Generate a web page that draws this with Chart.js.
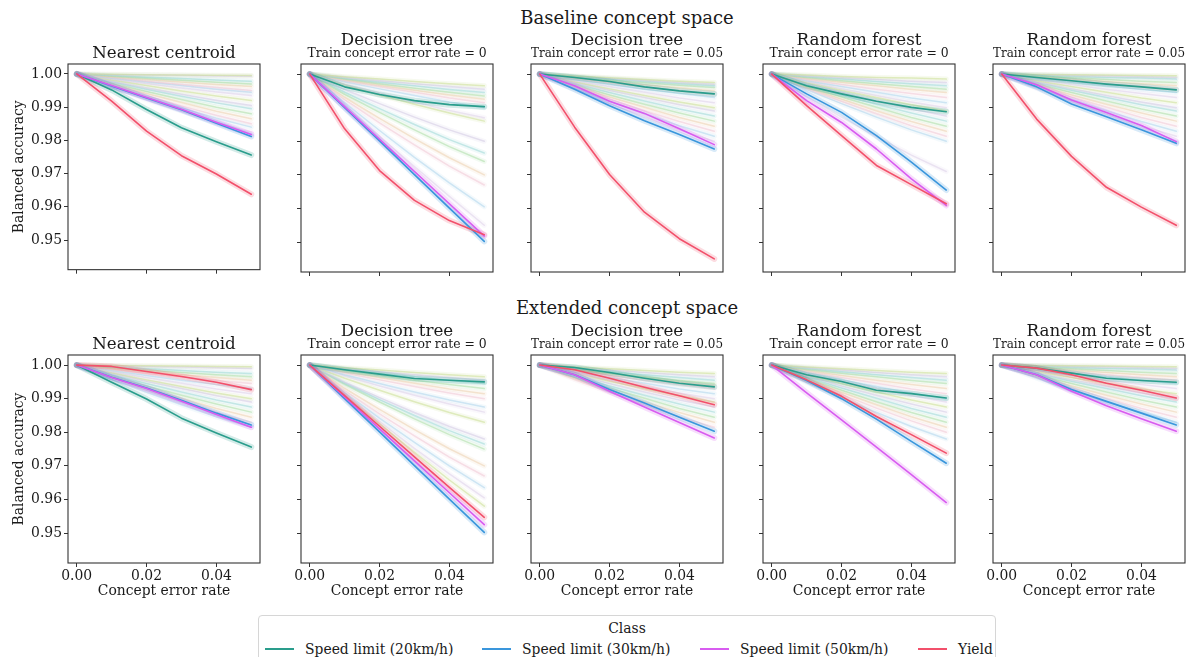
<!DOCTYPE html>
<html>
<head>
<meta charset="utf-8">
<script src="https://cdn.jsdelivr.net/npm/chart.js@4.4.0/dist/chart.umd.min.js"></script>
<style>
html,body{margin:0;padding:0;background:#fff;}
body{width:1188px;height:657px;overflow:hidden;position:relative;font-family:"DejaVu Serif",serif;color:#1a1a1a;}
.panel{position:absolute;}
.sup{position:absolute;left:427px;width:400px;text-align:center;font-size:18px;line-height:20px;white-space:nowrap;}
#legend{position:absolute;left:258px;top:615px;width:738px;height:60px;border:1px solid #d6d6d6;border-radius:4px;box-sizing:border-box;background:#fff;}
#legend .ttl{position:absolute;left:0;width:100%;top:4px;text-align:center;font-size:13.9px;line-height:16px;}
#legend .sw{position:absolute;top:32px;width:29px;height:2px;}
#legend .lb{position:absolute;top:24px;font-size:13.9px;line-height:18px;white-space:nowrap;}
</style>
</head>
<body>
<div class="sup" style="top:8px">Baseline concept space</div>
<div class="sup" style="top:298px">Extended concept space</div>
<div id="legend"><div class="ttl">Class</div></div>
<script>
// ---------- shared axes / labels ----------
const xValues = [0, 0.01, 0.02, 0.03, 0.04, 0.05];
const xTickValues = [0, 0.02, 0.04];
const yTickValues = [0.95, 0.96, 0.97, 0.98, 0.99, 1.00];
const classNames = ['Speed limit (20km/h)', 'Speed limit (30km/h)', 'Speed limit (50km/h)', 'Yield'];
const classColors = ['#2a9d8c', '#3a96dc', '#d85cf0', '#f2506b'];
const bandColors = ['rgba(42,157,140,0.2)', 'rgba(58,150,220,0.2)', 'rgba(216,92,240,0.2)', 'rgba(242,80,107,0.2)'];
const fadedColors = ['rgba(200,222,140,0.5)', 'rgba(208,198,226,0.5)', 'rgba(150,214,212,0.5)', 'rgba(165,220,160,0.5)',
                     'rgba(236,206,170,0.5)', 'rgba(240,195,210,0.5)', 'rgba(168,210,236,0.5)', 'rgba(220,206,232,0.5)'];
const fadedBandColors = ['rgba(200,222,140,0.14)', 'rgba(208,198,226,0.14)', 'rgba(150,214,212,0.14)', 'rgba(165,220,160,0.14)',
                         'rgba(236,206,170,0.14)', 'rgba(240,195,210,0.14)', 'rgba(168,210,236,0.14)', 'rgba(220,206,232,0.14)'];
const panelTitles = ['Nearest centroid', 'Decision tree', 'Decision tree', 'Random forest', 'Random forest'];
const panelSubtitles = ['', 'Train concept error rate = 0', 'Train concept error rate = 0.05', 'Train concept error rate = 0', 'Train concept error rate = 0.05'];
const yAxisTitle = 'Balanced accuracy';
const xAxisTitle = 'Concept error rate';

// ---------- highlighted classes: [20km/h, 30km/h, 50km/h, Yield] ----------
const baseNC = [
  [1, 0.9952, 0.9893, 0.9838, 0.9796, 0.9756],
  [1, 0.9964, 0.9928, 0.9892, 0.9852, 0.9812],
  [1, 0.9965, 0.9929, 0.9894, 0.9855, 0.9818],
  [1, 0.9918, 0.9828, 0.9754, 0.9699, 0.9638]];
const baseDT0 = [
  [1, 0.9962, 0.9939, 0.9921, 0.9909, 0.9903],
  [1, 0.9900, 0.9801, 0.9701, 0.9601, 0.9502],
  [1, 0.9903, 0.9806, 0.9710, 0.9614, 0.9518],
  [1, 0.9837, 0.9713, 0.9624, 0.9564, 0.9522]];
const baseDT05 = [
  [1, 0.9990, 0.9978, 0.9962, 0.9950, 0.9941],
  [1, 0.9955, 0.9906, 0.9861, 0.9820, 0.9777],
  [1, 0.9965, 0.9919, 0.9883, 0.9837, 0.9790],
  [1, 0.9842, 0.9701, 0.9589, 0.9510, 0.9450]];
const baseRF0 = [
  [1, 0.9965, 0.9941, 0.9919, 0.9901, 0.9888],
  [1, 0.9941, 0.9886, 0.9817, 0.9738, 0.9655],
  [1, 0.9921, 0.9856, 0.9777, 0.9688, 0.9609],
  [1, 0.9906, 0.9817, 0.9728, 0.9671, 0.9614]];
const baseRF05 = [
  [1, 0.9990, 0.9980, 0.9970, 0.9962, 0.9953],
  [1, 0.9962, 0.9911, 0.9873, 0.9834, 0.9794],
  [1, 0.9968, 0.9923, 0.9886, 0.9847, 0.9799],
  [1, 0.9866, 0.9755, 0.9663, 0.9604, 0.9550]];
const extNC = [
  [1, 0.9949, 0.9899, 0.9842, 0.9798, 0.9756],
  [1, 0.9964, 0.9932, 0.9895, 0.9857, 0.9822],
  [1, 0.9963, 0.9930, 0.9892, 0.9853, 0.9815],
  [1, 0.9996, 0.9981, 0.9966, 0.9949, 0.9927]];
const extDT0 = [
  [1, 0.9986, 0.9973, 0.9960, 0.9955, 0.9950],
  [1, 0.9900, 0.9801, 0.9701, 0.9601, 0.9502],
  [1, 0.9905, 0.9810, 0.9715, 0.9620, 0.9525],
  [1, 0.9909, 0.9818, 0.9727, 0.9636, 0.9547]];
const extDT05 = [
  [1, 0.9993, 0.9978, 0.9961, 0.9946, 0.9935],
  [1, 0.9971, 0.9927, 0.9887, 0.9845, 0.9803],
  [1, 0.9971, 0.9922, 0.9875, 0.9829, 0.9783],
  [1, 0.9986, 0.9961, 0.9934, 0.9909, 0.9882]];
const extRF0 = [
  [1, 0.9971, 0.9951, 0.9925, 0.9915, 0.9902],
  [1, 0.9954, 0.9900, 0.9839, 0.9773, 0.9708],
  [1, 0.9917, 0.9837, 0.9756, 0.9674, 0.9591],
  [1, 0.9956, 0.9907, 0.9847, 0.9793, 0.9738]];
const extRF05 = [
  [1, 0.9991, 0.9976, 0.9961, 0.9954, 0.9949],
  [1, 0.9971, 0.9927, 0.9892, 0.9857, 0.9822],
  [1, 0.9971, 0.9922, 0.9879, 0.9840, 0.9803],
  [1, 0.9991, 0.9971, 0.9946, 0.9925, 0.9902]];

// ---------- other (faded) classes ----------
const baseNCOther = [
  [1,0.9999,0.9998,0.9997,0.9996,0.9995],[1,0.9998,0.9997,0.9996,0.9994,0.9993],
  [1,0.9995,0.9990,0.9986,0.9982,0.9978],[1,0.9993,0.9987,0.9981,0.9975,0.9970],
  [1,0.9991,0.9983,0.9976,0.9968,0.9962],[1,0.9989,0.9978,0.9968,0.9959,0.9950],
  [1,0.9987,0.9976,0.9965,0.9954,0.9945],[1,0.9985,0.9971,0.9958,0.9946,0.9935],
  [1,0.9982,0.9965,0.9949,0.9934,0.9920],[1,0.9978,0.9958,0.9939,0.9921,0.9905],
  [1,0.9976,0.9954,0.9933,0.9913,0.9895],[1,0.9972,0.9947,0.9923,0.9900,0.9880],
  [1,0.9969,0.9941,0.9914,0.9888,0.9865],[1,0.9966,0.9934,0.9904,0.9876,0.9850],
  [1,0.9963,0.9930,0.9898,0.9867,0.9840],[1,0.9960,0.9923,0.9888,0.9855,0.9825]];
const baseDT0Other = [
  [1,0.9992,0.9985,0.9978,0.9971,0.9965],[1,0.9990,0.9980,0.9971,0.9963,0.9955],
  [1,0.9987,0.9976,0.9965,0.9954,0.9945],[1,0.9985,0.9971,0.9958,0.9946,0.9935],
  [1,0.9983,0.9967,0.9952,0.9938,0.9925],[1,0.9980,0.9963,0.9946,0.9929,0.9915],
  [1,0.9977,0.9956,0.9936,0.9917,0.9900],[1,0.9970,0.9943,0.9917,0.9892,0.9870],
  [1,0.9968,0.9938,0.9910,0.9884,0.9860],[1,0.9954,0.9912,0.9872,0.9834,0.9800],
  [1,0.9946,0.9897,0.9850,0.9805,0.9765],[1,0.9940,0.9886,0.9834,0.9784,0.9740],
  [1,0.9931,0.9868,0.9808,0.9751,0.9700],[1,0.9924,0.9855,0.9789,0.9726,0.9670],
  [1,0.9915,0.9832,0.9752,0.9676,0.9605],[1,0.9908,0.9815,0.9725,0.9636,0.9550]];
const baseDT05Other = [
  [1,0.9994,0.9989,0.9984,0.9979,0.9975],[1,0.9993,0.9987,0.9981,0.9975,0.9970],
  [1,0.9992,0.9985,0.9978,0.9971,0.9965],[1,0.9991,0.9982,0.9974,0.9967,0.9960],
  [1,0.9989,0.9978,0.9968,0.9959,0.9950],[1,0.9986,0.9974,0.9962,0.9950,0.9940],
  [1,0.9984,0.9969,0.9955,0.9942,0.9930],[1,0.9980,0.9963,0.9946,0.9929,0.9915],
  [1,0.9977,0.9956,0.9936,0.9917,0.9900],[1,0.9975,0.9952,0.9930,0.9909,0.9890],
  [1,0.9971,0.9945,0.9920,0.9896,0.9875],[1,0.9968,0.9938,0.9910,0.9884,0.9860],
  [1,0.9964,0.9932,0.9901,0.9871,0.9845],[1,0.9961,0.9925,0.9891,0.9859,0.9830],
  [1,0.9957,0.9919,0.9882,0.9846,0.9815],[1,0.9954,0.9912,0.9872,0.9834,0.9800]];
const baseRF0Other = [
  [1,0.9997,0.9993,0.9990,0.9988,0.9985],[1,0.9994,0.9989,0.9984,0.9979,0.9975],
  [1,0.9992,0.9985,0.9978,0.9971,0.9965],[1,0.9990,0.9980,0.9971,0.9963,0.9955],
  [1,0.9987,0.9976,0.9965,0.9954,0.9945],[1,0.9984,0.9969,0.9955,0.9942,0.9930],
  [1,0.9980,0.9963,0.9946,0.9929,0.9915],[1,0.9977,0.9956,0.9936,0.9917,0.9900],
  [1,0.9975,0.9952,0.9930,0.9909,0.9890],[1,0.9971,0.9945,0.9920,0.9896,0.9875],
  [1,0.9968,0.9938,0.9910,0.9884,0.9860],[1,0.9964,0.9932,0.9901,0.9871,0.9845],
  [1,0.9961,0.9925,0.9891,0.9859,0.9830],[1,0.9957,0.9919,0.9882,0.9846,0.9815],
  [1,0.9954,0.9912,0.9872,0.9834,0.9800],[1,0.9933,0.9872,0.9814,0.9759,0.9710]];
const baseRF05Other = [
  [1,0.9999,0.9998,0.9997,0.9996,0.9995],[1,0.9998,0.9996,0.9994,0.9992,0.9990],
  [1,0.9997,0.9993,0.9990,0.9988,0.9985],[1,0.9994,0.9989,0.9984,0.9979,0.9975],
  [1,0.9992,0.9985,0.9978,0.9971,0.9965],[1,0.9990,0.9980,0.9971,0.9963,0.9955],
  [1,0.9987,0.9976,0.9965,0.9954,0.9945],[1,0.9984,0.9969,0.9955,0.9942,0.9930],
  [1,0.9980,0.9963,0.9946,0.9929,0.9915],[1,0.9977,0.9956,0.9936,0.9917,0.9900],
  [1,0.9975,0.9952,0.9930,0.9909,0.9890],[1,0.9971,0.9945,0.9920,0.9896,0.9875],
  [1,0.9968,0.9938,0.9910,0.9884,0.9860],[1,0.9964,0.9932,0.9901,0.9871,0.9845],
  [1,0.9961,0.9925,0.9891,0.9859,0.9830],[1,0.9957,0.9919,0.9882,0.9846,0.9815]];
const extNCOther = [
  [1,0.9999,0.9998,0.9997,0.9996,0.9995],[1,0.9998,0.9996,0.9994,0.9992,0.9990],
  [1,0.9994,0.9989,0.9984,0.9979,0.9975],[1,0.9992,0.9985,0.9978,0.9971,0.9965],
  [1,0.9990,0.9980,0.9971,0.9963,0.9955],[1,0.9987,0.9976,0.9965,0.9954,0.9945],
  [1,0.9984,0.9969,0.9955,0.9942,0.9930],[1,0.9980,0.9963,0.9946,0.9929,0.9915],
  [1,0.9977,0.9956,0.9936,0.9917,0.9900],[1,0.9975,0.9952,0.9930,0.9909,0.9890],
  [1,0.9971,0.9945,0.9920,0.9896,0.9875],[1,0.9968,0.9938,0.9910,0.9884,0.9860],
  [1,0.9964,0.9932,0.9901,0.9871,0.9845],[1,0.9961,0.9925,0.9891,0.9859,0.9830],
  [1,0.9957,0.9919,0.9882,0.9846,0.9815]];
const extDT0Other = [
  [1,0.9992,0.9985,0.9978,0.9971,0.9965],[1,0.9990,0.9980,0.9971,0.9963,0.9955],
  [1,0.9987,0.9976,0.9965,0.9954,0.9945],[1,0.9984,0.9969,0.9955,0.9942,0.9930],
  [1,0.9980,0.9963,0.9946,0.9929,0.9915],[1,0.9977,0.9956,0.9936,0.9917,0.9900],
  [1,0.9971,0.9945,0.9920,0.9896,0.9875],[1,0.9968,0.9938,0.9910,0.9884,0.9860],
  [1,0.9961,0.9925,0.9891,0.9859,0.9830],[1,0.9949,0.9903,0.9859,0.9817,0.9780],
  [1,0.9946,0.9897,0.9850,0.9805,0.9765],[1,0.9943,0.9890,0.9840,0.9793,0.9750],
  [1,0.9931,0.9868,0.9808,0.9751,0.9700],[1,0.9924,0.9855,0.9789,0.9726,0.9670],
  [1,0.9918,0.9842,0.9770,0.9700,0.9635],[1,0.9915,0.9832,0.9752,0.9676,0.9605],
  [1,0.9912,0.9825,0.9740,0.9658,0.9580]];
const extDT05Other = [
  [1,0.9994,0.9989,0.9984,0.9979,0.9975],[1,0.9992,0.9985,0.9978,0.9971,0.9965],
  [1,0.9990,0.9980,0.9971,0.9963,0.9955],[1,0.9987,0.9976,0.9965,0.9954,0.9945],
  [1,0.9986,0.9974,0.9962,0.9950,0.9940],[1,0.9984,0.9969,0.9955,0.9942,0.9930],
  [1,0.9980,0.9963,0.9946,0.9929,0.9915],[1,0.9977,0.9956,0.9936,0.9917,0.9900],
  [1,0.9975,0.9952,0.9930,0.9909,0.9890],[1,0.9971,0.9945,0.9920,0.9896,0.9875],
  [1,0.9968,0.9938,0.9910,0.9884,0.9860],[1,0.9964,0.9932,0.9901,0.9871,0.9845],
  [1,0.9961,0.9925,0.9891,0.9859,0.9830],[1,0.9957,0.9919,0.9882,0.9846,0.9815]];
const extRF0Other = [
  [1,0.9994,0.9989,0.9984,0.9979,0.9975],[1,0.9992,0.9985,0.9978,0.9971,0.9965],
  [1,0.9990,0.9980,0.9971,0.9963,0.9955],[1,0.9987,0.9976,0.9965,0.9954,0.9945],
  [1,0.9984,0.9969,0.9955,0.9942,0.9930],[1,0.9980,0.9963,0.9946,0.9929,0.9915],
  [1,0.9977,0.9956,0.9936,0.9917,0.9900],[1,0.9975,0.9952,0.9930,0.9909,0.9890],
  [1,0.9971,0.9945,0.9920,0.9896,0.9875],[1,0.9968,0.9938,0.9910,0.9884,0.9860],
  [1,0.9964,0.9932,0.9901,0.9871,0.9845],[1,0.9961,0.9925,0.9891,0.9859,0.9830],
  [1,0.9957,0.9919,0.9882,0.9846,0.9815],[1,0.9954,0.9912,0.9872,0.9834,0.9800],
  [1,0.9949,0.9903,0.9859,0.9817,0.9780]];
const extRF05Other = [
  [1,0.9999,0.9998,0.9997,0.9996,0.9995],[1,0.9998,0.9996,0.9994,0.9992,0.9990],
  [1,0.9997,0.9993,0.9990,0.9988,0.9985],[1,0.9994,0.9989,0.9984,0.9979,0.9975],
  [1,0.9992,0.9985,0.9978,0.9971,0.9965],[1,0.9990,0.9980,0.9971,0.9963,0.9955],
  [1,0.9987,0.9976,0.9965,0.9954,0.9945],[1,0.9984,0.9969,0.9955,0.9942,0.9930],
  [1,0.9980,0.9963,0.9946,0.9929,0.9915],[1,0.9977,0.9956,0.9936,0.9917,0.9900],
  [1,0.9975,0.9952,0.9930,0.9909,0.9890],[1,0.9971,0.9945,0.9920,0.9896,0.9875],
  [1,0.9968,0.9938,0.9910,0.9884,0.9860],[1,0.9964,0.9932,0.9901,0.9871,0.9845],
  [1,0.9961,0.9925,0.9891,0.9859,0.9830]];

const panelData = [
  [baseNC, baseNCOther], [baseDT0, baseDT0Other], [baseDT05, baseDT05Other], [baseRF0, baseRF0Other], [baseRF05, baseRF05Other],
  [extNC, extNCOther], [extDT0, extDT0Other], [extDT05, extDT05Other], [extRF0, extRF0Other], [extRF05, extRF05Other]];

// ---------- layout ----------
const FONT = 'DejaVu Serif';
const panelLefts = [68, 301, 531, 763, 993];
const panelTops = [64, 355];
const PW = 192, PH = 208;
const Y_MIN = 0.9411, Y_MAX = 1.003;
const X_MIN = -0.0025, X_MAX = 0.0525;

const framePlugin = {
  id: 'frame',
  afterDatasetsDraw(chart) {
    const a = chart.chartArea, ctx = chart.ctx;
    ctx.save();
    ctx.strokeStyle = '#333';
    ctx.lineWidth = 1.1;
    ctx.strokeRect(a.left, a.top, a.right - a.left, a.bottom - a.top);
    ctx.restore();
  }
};

function toPoints(vals) { return xValues.map((x, i) => ({x: x, y: vals[i]})); }

panelData.forEach((pd, idx) => {
  const r = Math.floor(idx / 5), c = idx % 5;
  const [series, others] = pd;
  const yW = c === 0 ? 68 : 10;
  const xH = r === 0 ? 8 : 42;
  const w = yW + PW + 3, h = 40 + PH + xH;
  const div = document.createElement('div');
  div.className = 'panel';
  div.style.left = (panelLefts[c] - yW) + 'px';
  div.style.top = (panelTops[r] - 40) + 'px';
  div.style.width = w + 'px';
  div.style.height = h + 'px';
  const cv = document.createElement('canvas');
  cv.width = w; cv.height = h;
  cv.style.width = w + 'px'; cv.style.height = h + 'px';
  div.appendChild(cv);
  document.body.appendChild(div);

  const datasets = [];
  series.forEach((vals, k) => {
    datasets.push({label: classNames[k], data: toPoints(vals), borderColor: classColors[k], borderWidth: 1.6, order: 3 - k});
    datasets.push({label: classNames[k] + ' CI', data: toPoints(vals), borderColor: bandColors[k], borderWidth: 6, order: 10});
  });
  others.forEach((vals, j) => {
    const ci = j % fadedColors.length;
    datasets.push({label: 'other ' + j, data: toPoints(vals), borderColor: fadedColors[ci], borderWidth: 1.5, order: 20});
    datasets.push({label: 'other CI ' + j, data: toPoints(vals), borderColor: fadedBandColors[ci], borderWidth: 5, order: 30});
  });

  const tickFont = {family: FONT, size: 13.9};
  new Chart(cv, {
    type: 'line',
    data: {datasets: datasets},
    plugins: [framePlugin],
    options: {
      responsive: false,
      animation: false,
      devicePixelRatio: 1,
      layout: {padding: {top: 0, left: 0, right: 3, bottom: 0}},
      elements: {point: {radius: 0}, line: {tension: 0, fill: false, borderCapStyle: 'round', borderJoinStyle: 'round'}},
      plugins: {
        legend: {display: false},
        tooltip: {enabled: false},
        title: {
          display: true, fullSize: false, text: panelTitles[c], color: '#1a1a1a',
          font: {family: FONT, size: 16.7, weight: 'normal', lineHeight: 0.85},
          padding: c === 0 ? {top: 22.4, bottom: 3.4} : {top: 9.6, bottom: 0}
        },
        subtitle: {
          display: c > 0, fullSize: false, text: panelSubtitles[c], color: '#1a1a1a',
          font: {family: FONT, size: 12.4, weight: 'normal', lineHeight: 1},
          padding: {top: 0, bottom: 3.8}
        }
      },
      scales: {
        x: {
          type: 'linear', min: X_MIN, max: X_MAX,
          afterBuildTicks: s => { s.ticks = xTickValues.map(v => ({value: v})); },
          afterFit: s => { s.height = xH; },
          ticks: {display: r === 1, padding: 1, color: '#1a1a1a', font: tickFont, maxRotation: 0, autoSkip: false,
                  callback: v => Number(v).toFixed(2)},
          grid: {drawOnChartArea: false, drawTicks: true, tickLength: 4, tickColor: '#333', tickWidth: 1},
          border: {display: false},
          title: {display: r === 1, text: xAxisTitle, color: '#1a1a1a', font: {family: FONT, size: 13.9, lineHeight: 1.2},
                  padding: {top: 0, bottom: 5.5}}
        },
        y: {
          type: 'linear', min: Y_MIN, max: Y_MAX,
          afterBuildTicks: s => { s.ticks = yTickValues.map(v => ({value: v})); },
          afterFit: s => { s.width = yW; },
          ticks: {display: c === 0, padding: 2, color: '#1a1a1a', font: tickFont, autoSkip: false,
                  callback: v => Number(v).toFixed(2)},
          grid: {drawOnChartArea: false, drawTicks: true, tickLength: 4, tickColor: '#333', tickWidth: 1},
          border: {display: false},
          title: {display: c === 0, text: yAxisTitle, color: '#1a1a1a', font: {family: FONT, size: 13.9, lineHeight: 1.2},
                  padding: {top: 11, bottom: 0}}
        }
      }
    }
  });
});

// ---------- legend ----------
const legendSwatchX = [6, 223, 441, 659];
const legend = document.getElementById('legend');
classNames.forEach((name, k) => {
  const sw = document.createElement('div');
  sw.className = 'sw';
  sw.style.left = legendSwatchX[k] + 'px';
  sw.style.background = classColors[k];
  legend.appendChild(sw);
  const lb = document.createElement('div');
  lb.className = 'lb';
  lb.style.left = (legendSwatchX[k] + 40) + 'px';
  lb.textContent = name;
  legend.appendChild(lb);
});
</script>
</body>
</html>
